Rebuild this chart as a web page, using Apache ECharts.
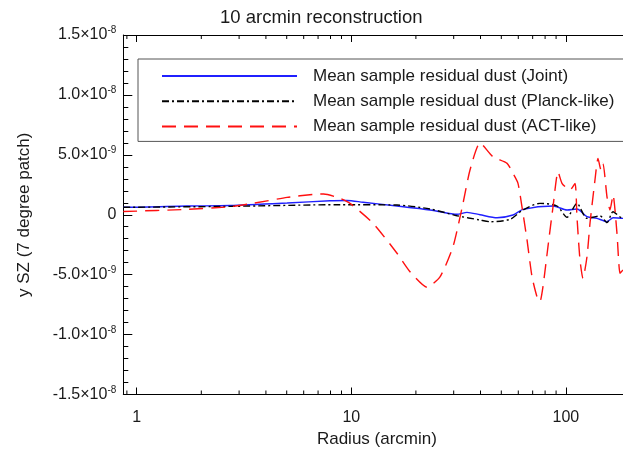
<!DOCTYPE html>
<html>
<head>
<meta charset="UTF-8">
<title>10 arcmin reconstruction</title>
<script src="https://cdn.jsdelivr.net/npm/echarts@6/dist/echarts.min.js"></script>
</head>
<body style="margin:0">
<div id="main" style="width:623px;height:456px;"></div>
<script>
// radius (arcmin) and y values (units of 1e-9)
var jointR = [0.866, 0.931, 1.716, 2.72, 5.02, 7.96, 9.55, 11.34, 16.33, 23.26, 29.78, 31.09, 34.6, 39.8, 47.8, 56.7, 63.1, 87.1, 101.2, 112.6, 125.4, 139.6, 155.4, 165.8, 184.5, 200];
var jointY = [0.62, 0.62, 0.73, 0.77, 0.98, 1.17, 1.19, 1.04, 0.73, 0.40, 0.06, 0.04, 0.20, 0.0, -0.25, -0.02, 0.45, 0.73, 0.40, 0.48, -0.16, -0.30, -0.58, -0.25, -0.30, -0.30];

var planckR = [0.866, 2.72, 8.86, 16.33, 23.26, 31.09, 39.8, 44.3, 54.9, 63.1, 75.7, 90.9, 101.2, 112.6, 125.4, 144.2, 155.4, 165.8, 184.5, 200];
var planckY = [0.62, 0.70, 0.84, 0.81, 0.48, -0.08, -0.44, -0.58, -0.38, 0.40, 0.95, 0.73, -0.21, 0.95, -0.30, -0.10, -0.66, 0.25, -0.30, -0.20];

var actR = [0.866, 1.716, 2.72, 3.48, 5.02, 6.63, 7.43, 8.86, 9.86, 12.62, 16.33, 18.77, 22.53, 25.9, 29.78, 33.15, 35.74, 39.8, 45.7, 53.2, 56.7, 59.8, 62.4, 65.9, 69.5, 73.3, 75.7, 78.2, 82.5, 87.1, 91.9, 95.9, 101.2, 104.5, 110.3, 112.6, 116.3, 120.1, 125.4, 129.5, 136.6, 141.1, 145.7, 148.9, 155.4, 160.5, 165.8, 173.0, 178.7, 184.5, 200];
var actY = [0.27, 0.45, 0.67, 0.95, 1.45, 1.70, 1.73, 1.37, 0.95, -0.71, -3.21, -4.75, -6.05, -5.19, -2.66, 0.95, 3.73, 6.00, 4.84, 4.29, 3.45, 2.62, 0.67, -2.10, -5.16, -6.83, -7.25, -6.0, -2.66, 0.67, 3.59, 2.62, 2.20, 2.06, 2.62, -0.16, -3.77, -5.30, -3.50, -0.71, 2.90, 4.70, 3.73, 4.29, 1.50, 0.40, 1.65, -1.55, -4.88, -4.60, -3.50];

var minorTicksX = [0.9, 2, 3, 4, 5, 6, 7, 8, 9, 20, 30, 40, 50, 60, 70, 80, 90];
var names = ['Mean sample residual dust (Joint)', 'Mean sample residual dust (Planck-like)', 'Mean sample residual dust (ACT-like)'];

var yMin = -1.5e-8, yMax = 1.5e-8;
var font = 'Liberation Sans, Arial, Helvetica, sans-serif';
var ink = '#1a1a1a';

function pairs(r, y) {
    var out = [];
    for (var i = 0; i < r.length; i++) out.push([r[i], y[i] * 1e-9]);
    return out;
}

function sciLabel(v) {
    if (Math.abs(v) < 1e-15) return '{m|0}';
    var e = Math.floor(Math.log10(Math.abs(v)) + 1e-6);
    var m = (v / Math.pow(10, e)).toFixed(1);
    return '{m|' + m + '\u00d710}{e|' + e + '}';
}

var myChart = echarts.init(document.getElementById('main'));
myChart.setOption({
    animation: false,
    backgroundColor: '#fff',
    title: {
        text: '10 arcmin reconstruction',
        left: 215, top: 3,
        textStyle: { fontFamily: font, fontSize: 18.5, fontWeight: 'normal', color: ink }
    },
    legend: {
        data: names,
        orient: 'vertical',
        left: 138, top: 59,
        padding: [8, 12, 6, 23],
        itemGap: 7.2,
        itemWidth: 135, itemHeight: 10,
        itemStyle: { opacity: 0 },
        borderColor: '#555', borderWidth: 1,
        textStyle: { fontFamily: font, fontSize: 17, lineHeight: 18, color: ink, padding: [0, 0, 0, 11] }
    },
    grid: { left: 123.3, top: 35, right: -7.5, bottom: 61.5, outerBoundsMode: 'none' },
    xAxis: [{
        type: 'log', logBase: 10, min: 0.866, max: 200,
        name: 'Radius (arcmin)', nameLocation: 'middle', nameGap: 36,
        nameTextStyle: { fontFamily: font, fontSize: 17, color: ink },
        axisLine: { onZero: false, lineStyle: { color: '#000', width: 1 } },
        axisTick: { inside: true, length: 7, lineStyle: { color: '#000' } },
        axisLabel: { margin: 15, showMinLabel: false, showMaxLabel: false, fontFamily: font, fontSize: 16, color: ink,
            formatter: function (v) { return String(Math.round(v)); } },
        splitLine: { show: false }
    }, {
        type: 'log', logBase: 10, min: 0.866, max: 200, position: 'top',
        axisLine: { onZero: false, lineStyle: { color: '#000', width: 1 } },
        axisTick: { inside: true, length: 7, lineStyle: { color: '#000' } },
        axisLabel: { show: false },
        splitLine: { show: false }
    }],
    yAxis: {
        type: 'value', min: yMin, max: yMax, interval: 5e-9,
        name: 'y SZ (7 degree patch)', nameLocation: 'middle', nameGap: 90,
        nameTextStyle: { fontFamily: font, fontSize: 17, color: ink },
        axisLine: { show: true, onZero: false, lineStyle: { color: '#000', width: 1 } },
        axisTick: { inside: true, length: 9, lineStyle: { color: '#000' } },
        minorTick: { show: true, splitNumber: 5, length: 5, lineStyle: { color: '#000' } },
        axisLabel: {
            margin: 7, formatter: sciLabel,
            rich: {
                m: { fontFamily: font, fontSize: 16, color: ink },
                e: { fontFamily: font, fontSize: 10, color: ink, padding: [0, 0, 9, 0] }
            }
        },
        splitLine: { show: false }
    },
    series: [
        { name: names[0], type: 'line', symbol: 'none', smooth: 0.25, data: pairs(jointR, jointY),
          lineStyle: { color: '#2020ff', width: 1.4 }, itemStyle: { color: '#2020ff' } },
        { name: names[1], type: 'line', symbol: 'none', smooth: 0.25, data: pairs(planckR, planckY),
          lineStyle: { color: '#000', width: 1.4, type: [7, 3, 2, 3] }, itemStyle: { color: '#000' } },
        { name: names[2], type: 'line', symbol: 'none', smooth: 0.2, data: pairs(actR, actY),
          lineStyle: { color: '#ff1010', width: 1.4, type: [14, 8] }, itemStyle: { color: '#ff1010' } },
        {
            type: 'custom', silent: true, clip: false,
            data: minorTicksX.map(function (v) { return [v, 0]; }),
            encode: { x: 0, y: 1 },
            renderItem: function (params, api) {
                var x = api.value(0);
                var b = api.coord([x, yMin]);
                var t = api.coord([x, yMax]);
                return {
                    type: 'group',
                    children: [
                        { type: 'line', shape: { x1: b[0], y1: b[1], x2: b[0], y2: b[1] - 4 }, style: { stroke: '#000', lineWidth: 1 } },
                        { type: 'line', shape: { x1: t[0], y1: t[1], x2: t[0], y2: t[1] + 4 }, style: { stroke: '#000', lineWidth: 1 } }
                    ]
                };
            }
        }
    ]
});
</script>
</body>
</html>
